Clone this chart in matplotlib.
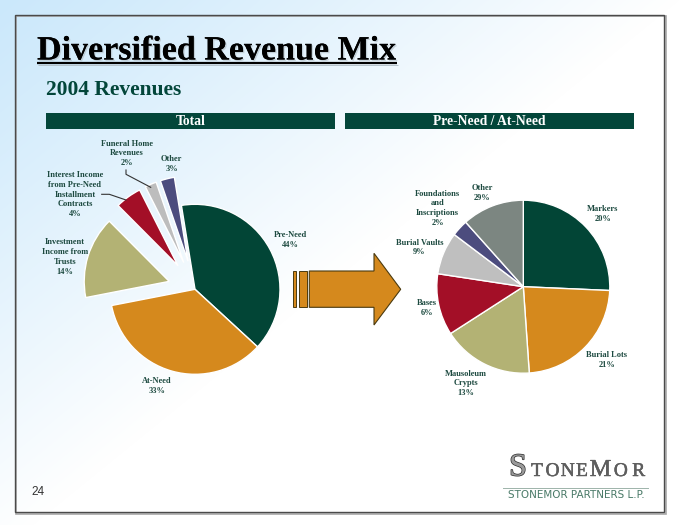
import numpy as np
import matplotlib
matplotlib.use('Agg')
import matplotlib.pyplot as plt
from matplotlib.patches import Rectangle, Polygon
import matplotlib.patheffects as pe

# ---------------- data ----------------
total_categories = ['Pre-Need', 'At-Need', 'Investment\nIncome from\nTrusts',
                    'Interest Income\nfrom Pre-Need\nInstallment\nContracts',
                    'Funeral Home\nRevenues', 'Other']
total_slice_sizes = [39.4, 35.1, 15.6, 5.0, 2.2, 2.7]
total_pct_labels = ['44%', '33%', '14%', '4%', '2%', '3%']

split_categories = ['Markers', 'Burial Lots', 'Mausoleum\nCrypts', 'Bases',
                    'Burial Vaults', 'Foundations\nand\nInscriptions', 'Other']
split_slice_sizes = [25.7, 23.2, 17.0, 11.5, 7.9, 3.1, 11.6]
split_pct_labels = ['20%', '21%', '13%', '6%', '9%', '2%', '29%']

# ---------------- style ----------------
W, H = 680, 525
GREEN = '#03463a'
LABEL = '#1d4a40'
total_colors = ['#024536', '#d5891d', '#b3b274', '#a30f27', '#bdbdbd', '#4c4c7e']
split_colors = ['#024536', '#d5891d', '#b3b274', '#a30f27', '#bfbfbf', '#4c4c7e', '#7c8681']
total_explode_px = [0, 0, 27, 29, 29, 29]
total_label_pos = [(290.7, 240.3), (156.7, 385.8), (65, 257.2), (75, 194.7),
                   (126.7, 153.3), (171.7, 164.3)]
split_label_pos = [(602.7, 214.3), (606.7, 360), (466, 383.3), (426.7, 308.3),
                   (419.3, 247.5), (437.7, 208.3), (482.3, 193.3)]

def Y(y):
    return H - y

fig = plt.figure(figsize=(W / 100, H / 100), dpi=100)
ax = fig.add_axes([0, 0, 1, 1])
ax.set_xlim(0, W)
ax.set_ylim(0, H)
ax.axis('off')

# background gradient
xx, yy = np.meshgrid(np.linspace(0, 1, W), np.linspace(0, 1, H))
t = np.clip(xx * 1.0 + yy * 0.95, 0, 1) ** 1.1
blue = np.array([203, 232, 251]) / 255
white = np.array([1.0, 1.0, 1.0])
img = blue[None, None, :] * (1 - t[..., None]) + white[None, None, :] * t[..., None]
ax.imshow(img, extent=(0, W, 0, H), origin='upper', zorder=0, aspect='auto')

# frame
ax.add_patch(Rectangle((16, Y(513.5)), 649.5, 497.5, fill=False, edgecolor='#a8a8a8', lw=1.2, zorder=1))
ax.add_patch(Rectangle((15, Y(512)), 649, 497, fill=False, edgecolor='#4a4a4a', lw=1.0, zorder=1))

serif = 'Liberation Serif'
# title
title = ax.text(37, Y(59.5), 'Diversified Revenue Mix', fontsize=24.5, fontweight='bold',
                family=serif, color='black', ha='left', va='baseline', zorder=3)
title.set_path_effects([pe.withSimplePatchShadow(offset=(1.0, -1.0), shadow_rgbFace='#b5c2ca', alpha=0.7), pe.Normal()])
ax.plot([37, 397], [Y(63.2), Y(63.2)], color='black', lw=1.6, zorder=3, solid_capstyle='butt')
ax.plot([38, 398], [Y(64.6), Y(64.6)], color='#b5c2ca', lw=0.7, zorder=2, solid_capstyle='butt')

ax.text(46.5, Y(95), '2004 Revenues', fontsize=15.5, fontweight='bold', family=serif,
        color=GREEN, ha='left', va='baseline', zorder=3)

# header bars
for (x0, x1, lab) in [(46, 335, 'Total'), (345, 633.7, 'Pre-Need / At-Need')]:
    ax.add_patch(Rectangle((x0, Y(128.7)), x1 - x0, 15.4, facecolor=GREEN, edgecolor='none', zorder=2))
    ax.text((x0 + x1) / 2, Y(121.3), lab, fontsize=9.8, fontweight='bold', family=serif,
            color='white', ha='center', va='center', zorder=3)

# ---------------- pies ----------------
wp = dict(edgecolor='white', linewidth=1.0)
ax.pie(total_slice_sizes, colors=total_colors, explode=total_explode_px, startangle=99.2,
       counterclock=False, radius=85, center=(195, Y(289.3)), wedgeprops=wp, frame=True)
ax.pie(split_slice_sizes, colors=split_colors, startangle=90, counterclock=False,
       radius=86.5, center=(523.3, Y(286.7)), wedgeprops=wp, frame=True)
ax.set_xlim(0, W)
ax.set_ylim(0, H)
ax.axis('off')

for cat, pct, (x, y) in zip(total_categories, total_pct_labels, total_label_pos):
    ax.text(x, Y(y), cat + '\n' + pct, fontsize=6.0, fontweight='bold', family=serif,
            color=LABEL, ha='center', va='center', multialignment='center',
            linespacing=1.3, zorder=4)
for cat, pct, (x, y) in zip(split_categories, split_pct_labels, split_label_pos):
    ax.text(x, Y(y), cat + '\n' + pct, fontsize=6.0, fontweight='bold', family=serif,
            color=LABEL, ha='center', va='center', multialignment='center',
            linespacing=1.3, zorder=4)

# leader lines
ax.plot([126, 126, 150.7], [Y(170), Y(174.3), Y(187.3)], color='#333333', lw=0.8, zorder=4)
ax.plot([101.7, 109.3, 126], [Y(194.3), Y(194.3), Y(200)], color='#333333', lw=0.8, zorder=4)

# arrow
ORANGE = '#d5891d'
edge = '#4a3a10'
ax.add_patch(Rectangle((292.7, Y(307.3)), 3.3, 36.3, facecolor=ORANGE, edgecolor=edge, lw=0.7, zorder=3))
ax.add_patch(Rectangle((299.3, Y(307.3)), 7.4, 36.3, facecolor=ORANGE, edgecolor=edge, lw=0.7, zorder=3))
arrow_pts = [(309.3, Y(271)), (374, Y(271)), (374, Y(253.3)), (400.7, Y(289.3)),
             (374, Y(325)), (374, Y(307.3)), (309.3, Y(307.3))]
ax.add_patch(Polygon(arrow_pts, closed=True, facecolor=ORANGE, edgecolor=edge, lw=0.8, zorder=3))

# page number
ax.text(31.5, Y(491.7), '24', fontsize=8.5, family='Liberation Sans', color='#333333',
        ha='left', va='center', zorder=3)

# logo
stone = [pe.Stroke(linewidth=1.0, foreground='#2e2e2e'), pe.Normal()]
ax.text(518, Y(475.5), 'S', fontsize=23, family=serif, color='#9a9a9a', ha='center',
        va='baseline', zorder=3, path_effects=stone)
logo_letters = ['T', 'O', 'N', 'E', 'M', 'O', 'R']
logo_x = [537, 552.5, 567.8, 582, 600.5, 620.8, 638.7]
logo_sizes = [14, 14, 14, 14, 17.5, 14, 14]
for ch, lx, fs in zip(logo_letters, logo_x, logo_sizes):
    ax.text(lx, Y(476), ch, fontsize=fs, family=serif, color='#5e5e5e', ha='center',
            va='baseline', zorder=3,
            path_effects=[pe.Stroke(linewidth=0.3, foreground='#444444'), pe.Normal()])
ax.plot([503, 648], [Y(487.5), Y(487.5)], color='#9db3aa', lw=0.7, zorder=3)
ax.text(576, Y(495), 'STONEMOR PARTNERS L.P.', fontsize=7.5, family='DejaVu Sans',
        color='#4a7a68', ha='center', va='center', zorder=3)

fig.savefig('out.png', dpi=100)
